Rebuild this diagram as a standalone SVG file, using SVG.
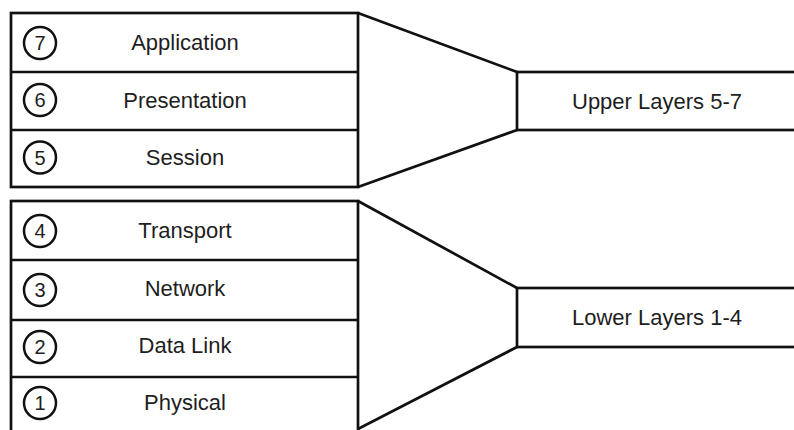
<svg xmlns="http://www.w3.org/2000/svg" width="794" height="430" viewBox="0 0 794 430">
<style>
.box{fill:#fff;stroke:#111;stroke-width:2.7}
.div{stroke:#111;stroke-width:2.4}
.circ{fill:none;stroke:#111;stroke-width:2.5}
.lbl{font-family:"Liberation Sans",Arial,sans-serif;font-size:22px;fill:#1e1e1e;text-anchor:middle}
.num{font-family:"Liberation Sans",Arial,sans-serif;font-size:20px;fill:#1e1e1e;text-anchor:middle}
.con{stroke:#111;stroke-width:2.7;fill:none}
</style>
<rect width="794" height="430" fill="#fff"/>
<g id="upper-stack">
<rect class="box" x="11" y="13" width="347" height="174"/>
<line class="div" x1="11" y1="72" x2="358" y2="72"/>
<line class="div" x1="11" y1="130" x2="358" y2="130"/>
</g>
<g id="lower-stack">
<rect class="box" x="11" y="201" width="347" height="245"/>
<line class="div" x1="11" y1="260" x2="358" y2="260"/>
<line class="div" x1="11" y1="320" x2="358" y2="320"/>
<line class="div" x1="11" y1="377" x2="358" y2="377"/>
</g>
<g id="layer7"><circle class="circ" cx="40" cy="43" r="16"/><text class="num" x="40" y="50">7</text><text class="lbl" x="185" y="50">Application</text></g>
<g id="layer6"><circle class="circ" cx="40" cy="100" r="16"/><text class="num" x="40" y="107">6</text><text class="lbl" x="185" y="108">Presentation</text></g>
<g id="layer5"><circle class="circ" cx="40" cy="157.5" r="16"/><text class="num" x="40" y="164.5">5</text><text class="lbl" x="185" y="165">Session</text></g>
<g id="layer4"><circle class="circ" cx="40" cy="231" r="16"/><text class="num" x="40" y="238">4</text><text class="lbl" x="185" y="238">Transport</text></g>
<g id="layer3"><circle class="circ" cx="40" cy="290" r="16"/><text class="num" x="40" y="297">3</text><text class="lbl" x="185" y="296">Network</text></g>
<g id="layer2"><circle class="circ" cx="40" cy="347" r="16"/><text class="num" x="40" y="354">2</text><text class="lbl" x="185" y="353">Data Link</text></g>
<g id="layer1"><circle class="circ" cx="40" cy="403" r="16"/><text class="num" x="40" y="410">1</text><text class="lbl" x="185" y="410">Physical</text></g>
<g id="upper-layers"><rect class="box" x="517" y="72" width="290" height="58"/><text class="lbl" x="657" y="109">Upper Layers 5-7</text></g>
<g id="lower-layers"><rect class="box" x="517" y="288" width="290" height="59"/><text class="lbl" x="657" y="325">Lower Layers 1-4</text></g>
<g id="connectors">
<line class="con" x1="358" y1="13" x2="517" y2="72"/>
<line class="con" x1="358" y1="187" x2="517" y2="130"/>
<line class="con" x1="358" y1="201" x2="517" y2="288"/>
<line class="con" x1="358" y1="429" x2="517" y2="347"/>
</g>
</svg>
